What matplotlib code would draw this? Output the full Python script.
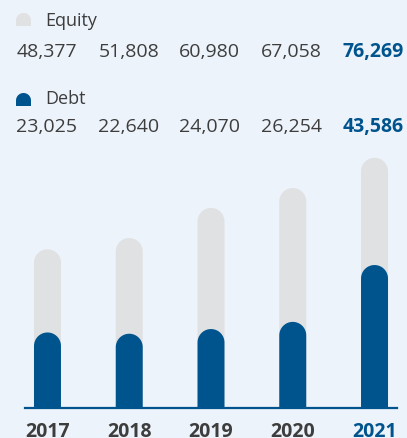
import numpy as np
import matplotlib.pyplot as plt
from matplotlib.patches import Polygon
from matplotlib.transforms import IdentityTransform

years = ['2017', '2018', '2019', '2020', '2021']
equity = [48377, 51808, 60980, 67058, 76269]
debt = [23025, 22640, 24070, 26254, 43586]

BG = '#edf3fb'
GREY = '#e0e1e3'
BLUE = '#00548e'
TXT = '#3d3d3d'

plt.rcParams['font.family'] = ['Open Sans', 'DejaVu Sans']

W, H = 407, 438
fig = plt.figure(figsize=(W / 100, H / 100), dpi=100, facecolor=BG)
# axes placed in pixel terms
ax = fig.add_axes([25 / W, 30 / H, 372 / W, 268 / H])
ax.set_facecolor(BG)
ax.set_xlim(-0.275, 4.275)
ax.set_ylim(0, 81700)
for s in ['top', 'left', 'right']:
    ax.spines[s].set_visible(False)
ax.spines['bottom'].set_color(BLUE)
ax.spines['bottom'].set_linewidth(1.6)
ax.spines['bottom'].set_zorder(10)
ax.set_xticks([])
ax.set_yticks([])

bw = 0.33
# cap height in data units so the top is a true half circle
px_x = 372 / (4.275 + 0.275)
px_y = 268 / 81700
cap = (bw / 2) * px_x / px_y
t = np.linspace(np.pi, 0, 40)


def pill(x, base, top, w, capy):
    # bar with a rounded top, flat bottom
    arc = np.column_stack([x + w / 2 * np.cos(t), top - capy + capy * np.sin(t)])
    pts = [(x - w / 2, base)] + arc.tolist() + [(x + w / 2, base)]
    return pts


def rounded_bars(vals, color, z):
    for x, v in enumerate(vals):
        ax.add_patch(Polygon(pill(x, 0, v, bw, cap), closed=True, facecolor=color,
                             edgecolor='none', zorder=z))


rounded_bars(equity, GREY, 2)
rounded_bars(debt, BLUE, 3)

# year labels
for i, y in enumerate(years):
    c = BLUE if i == len(years) - 1 else TXT
    ax.text(i, -4300, y, ha='center', va='top', fontsize=14, fontweight='bold', color=c)


def px(x, y):
    return x / W, 1 - y / H


def marker(x0, y0, color):
    w, h = 15, 13
    pts = pill(x0 + w / 2, H - (y0 + h), H - y0, w, w / 2)
    fig.patches.append(Polygon(pts, closed=True, transform=IdentityTransform(),
                               facecolor=color, edgecolor='none', figure=fig))


marker(16, 13, GREY)
marker(16, 93, BLUE)
fig.text(*px(45, 21), 'Equity', fontsize=13, color=TXT, va='center')
fig.text(*px(45, 99), 'Debt', fontsize=13, color=TXT, va='center')

ends = [77, 159, 240, 322, 404]
for row, vals in [(52, equity), (127, debt)]:
    for i, v in enumerate(vals):
        last = i == len(vals) - 1
        fig.text(*px(ends[i], row), f'{v:,}', ha='right', va='center', fontsize=14,
                 color=BLUE if last else TXT, fontweight='bold' if last else 'normal')

fig.savefig('out.png', dpi=100, facecolor=BG)
